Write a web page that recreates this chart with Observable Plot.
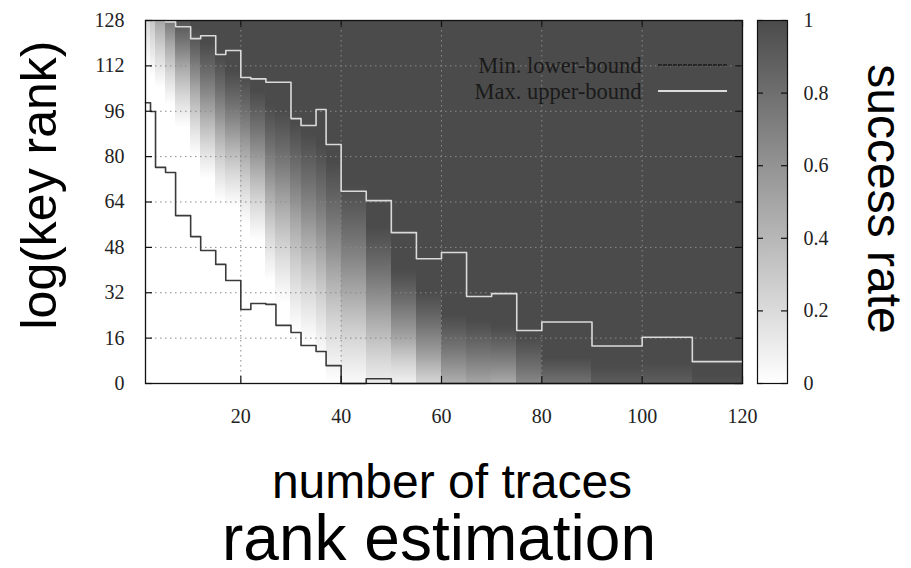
<!DOCTYPE html>
<html><head><meta charset="utf-8">
<script src="https://cdn.jsdelivr.net/npm/d3@7"></script>
<script src="https://cdn.jsdelivr.net/npm/@observablehq/plot@0.6"></script>
<style>
html,body{margin:0;padding:0;background:#fff;}
#wrap{position:relative;width:911px;height:568px;overflow:hidden;background:#fff;}
#wrap svg{position:absolute;left:0;top:0;}
</style></head><body><div id="wrap"></div>
<script>
// ---- data ----
const traces = [1,2,3,5,7,10,12,15,17,20,22,25,27,30,32,35,37,40,45,50,55,60,65,70,75,80,90,100,110,120];
const lowerBound = [99,95.9,76.2,74.4,59.2,51.8,46.9,42,36.3,26.1,28.2,27.9,20.5,18,13.4,11.3,6.3,0,1.7,0,0,0,0,0,0,0,0,0,0,0];
const upperBound = [128,128,128,127.5,125.8,121.6,122.6,116,117.4,107.9,107.4,106.2,106.2,93.4,91,96.6,84.3,67.8,64.5,53.2,44,46.2,30.7,31.7,18.7,21.7,13.2,16.3,7.7,7.7];
// heatmap columns span traces[i]..traces[i+1]; log(key rank) where success rate reaches 0, 0.5 and 1
const colRank0   = [112,108,104,98,90,80,72,64,62,56,50,36,28,18,14,8,0,-3,-8,-4,-10,-22,-20,-18,-24,-25,-40,-40,-60];
const colRank50  = [144,137,128,120,112,104,96,90,86,82,77,68,64,58,52,47,40,33,24,16,9,2,0,1,-6,-9,-20,-20,-30];
const colRank100 = [176,165,152,138,130,125,120,115,110,108,103,98,96,92,88,84,78,70,55,40,32,24,22,20,16,9,6,7,3];
const yTicks = [0,16,32,48,64,80,96,112,128];
const xTicks = [20,40,60,80,100,120];
const rateTicks = [0,0.2,0.4,0.6,0.8,1];
const rateRange = ["#ffffff", "#4b4b4b"];
const legendLabels = ["Min. lower-bound", "Max. upper-bound"];

const columns = colRank0.map((r0, i) => ({i, x1: traces[i], x2: traces[i+1], r0, r50: colRank50[i], r100: colRank100[i]}));
const lower = traces.map((t, i) => ({t, v: lowerBound[i]}));
const upper = traces.map((t, i) => ({t, v: upperBound[i]}));
const rateColor = d3.interpolateRgb(rateRange[0], rateRange[1]);

const W = 911, H = 568;
const serif = "'Liberation Serif', 'DejaVu Serif', serif";
const sans = "'Liberation Sans', Arial, sans-serif";

const main = Plot.plot({
  width: W, height: H,
  marginLeft: 145, marginRight: 169, marginTop: 20, marginBottom: 185,
  style: {background: "transparent"},
  x: {domain: [1, 120], axis: null},
  y: {domain: [0, 128], axis: null},
  color: {type: "identity"},
  marks: [
    Plot.rect(columns, {x1: "x1", x2: "x2", fill: d => `url(#hm${d.i})`, shapeRendering: "crispEdges"}),
    Plot.gridX(xTicks, {stroke: "#8a8a8a", strokeOpacity: 1, strokeDasharray: "1.5,3.5"}),
    Plot.gridY(yTicks, {stroke: "#8a8a8a", strokeOpacity: 1, strokeDasharray: "1.5,3.5"}),
    Plot.line(upper, {x: "t", y: "v", curve: "step-after", stroke: "#dadada", strokeWidth: 1.6}),
    Plot.line(lower, {x: "t", y: "v", curve: "step-after", stroke: "#3a3a3a", strokeWidth: 1.6}),
    Plot.tickY(yTicks, {y: d => d, insetRight: 597 - 7, stroke: "#111", strokeWidth: 1.2}),
    Plot.tickY(yTicks, {y: d => d, insetLeft: 597 - 7, stroke: "#111", strokeWidth: 1.2}),
    Plot.tickX(xTicks, {x: d => d, insetTop: 363 - 7, stroke: "#111", strokeWidth: 1.2}),
    Plot.tickX(xTicks, {x: d => d, insetBottom: 363 - 7, stroke: "#111", strokeWidth: 1.2}),
    Plot.frame({stroke: "#111", strokeWidth: 1.3}),
    Plot.axisY(yTicks, {anchor: "left", label: null, tickSize: 0, tickPadding: 21, fontSize: 20, fontFamily: serif, fill: "#222"}),
    Plot.axisX(xTicks, {anchor: "bottom", label: null, tickSize: 0, tickPadding: 25, fontSize: 20, fontFamily: serif, fill: "#222"}),
    Plot.text(["log(key rank)"], {text: d => d, frameAnchor: "left", textAnchor: "middle", lineAnchor: "middle", dx: -106, dy: -17, rotate: -90, fontSize: 50, fontFamily: sans, fill: "#000"}),
    Plot.text(["success rate"], {text: d => d, frameAnchor: "right", textAnchor: "middle", lineAnchor: "middle", dx: 141, dy: -3, rotate: 90, fontSize: 48, fontFamily: sans, fill: "#000"}),
    Plot.text(["number of traces"], {text: d => d, frameAnchor: "bottom", textAnchor: "middle", lineAnchor: "middle", dx: 8, dy: 99, fontSize: 48, fontFamily: sans, fill: "#000"}),
    Plot.text(["rank estimation"], {text: d => d, frameAnchor: "bottom", textAnchor: "middle", lineAnchor: "middle", dx: -5, dy: 156, fontSize: 64, fontFamily: sans, fill: "#000"}),
    Plot.text(legendLabels, {text: d => d, filter: (d, i) => i === 0, frameAnchor: "top-right", textAnchor: "end", lineAnchor: "middle", dx: -101, dy: 45, fontSize: 22.5, fontFamily: serif, fill: "#1a1a1a"}),
    Plot.text(legendLabels, {text: d => d, filter: (d, i) => i === 1, frameAnchor: "top-right", textAnchor: "end", lineAnchor: "middle", dx: -101, dy: 71, fontSize: 22.5, fontFamily: serif, fill: "#1a1a1a"})
  ]
});

// gradients for heatmap columns, placed with the plot's own y scale (lightly eased between the read ranks)
const ys = main.scale("y");
const yPix = d3.scaleLinear(ys.domain, ys.range);
const defs = d3.select(main).insert("defs", ":first-child");
columns.forEach(c => {
  const g = defs.append("linearGradient").attr("id", `hm${c.i}`).attr("gradientUnits", "userSpaceOnUse")
    .attr("x1", 0).attr("x2", 0).attr("y1", yPix(c.r0)).attr("y2", yPix(c.r100));
  const span = c.r100 - c.r0, mid = (c.r50 - c.r0) / span;
  const ease = t => 0.75 * t + 0.25 * t * t;
  const stops = [];
  for (let k = 0; k <= 6; k++) { const t = k / 6; stops.push([mid * t, 0.5 * ease(t)]); }
  for (let k = 1; k <= 6; k++) { const t = k / 6; stops.push([mid + (1 - mid) * t, 1 - 0.5 * ease(1 - t)]); }
  stops.forEach(([o, v]) => g.append("stop").attr("offset", o).attr("stop-color", rateColor(v)));
});
// legend swatches (key box, frame-relative)
const lg = d3.select(main).append("g");
lg.append("line").attr("x1", 658).attr("x2", 727).attr("y1", 65).attr("y2", 65)
  .attr("stroke", "#1a1a1a").attr("stroke-width", 1.6).attr("stroke-dasharray", "4,1");
lg.append("line").attr("x1", 658).attr("x2", 727).attr("y1", 91).attr("y2", 91)
  .attr("stroke", "#dcdcdc").attr("stroke-width", 2);

// colour bar
const cb = Plot.plot({
  width: W, height: H,
  marginLeft: 757, marginRight: 124, marginTop: 20, marginBottom: 185,
  style: {background: "transparent"},
  x: {domain: [0, 1], axis: null},
  y: {domain: [0, 1], axis: null},
  marks: [
    Plot.frame({fill: "url(#cbgrad)", stroke: "none"}),
    Plot.tickY(rateTicks, {y: d => d, insetRight: 30 - 6, stroke: "#111", strokeWidth: 1.2}),
    Plot.tickY(rateTicks, {y: d => d, insetLeft: 30 - 6, stroke: "#111", strokeWidth: 1.2}),
    Plot.frame({stroke: "#111", strokeWidth: 1.2}),
    Plot.axisY(rateTicks, {anchor: "right", label: null, tickSize: 0, tickPadding: 16, fontSize: 20, fontFamily: serif, fill: "#222", tickFormat: d => String(d)})
  ]
});
const cdefs = d3.select(cb).insert("defs", ":first-child");
const cg = cdefs.append("linearGradient").attr("id", "cbgrad").attr("x1", 0).attr("x2", 0).attr("y1", 1).attr("y2", 0);
rateTicks.forEach(v => cg.append("stop").attr("offset", v).attr("stop-color", rateColor(v)));

const wrap = document.getElementById("wrap");
wrap.appendChild(cb);
wrap.appendChild(main);
</script></body></html>
